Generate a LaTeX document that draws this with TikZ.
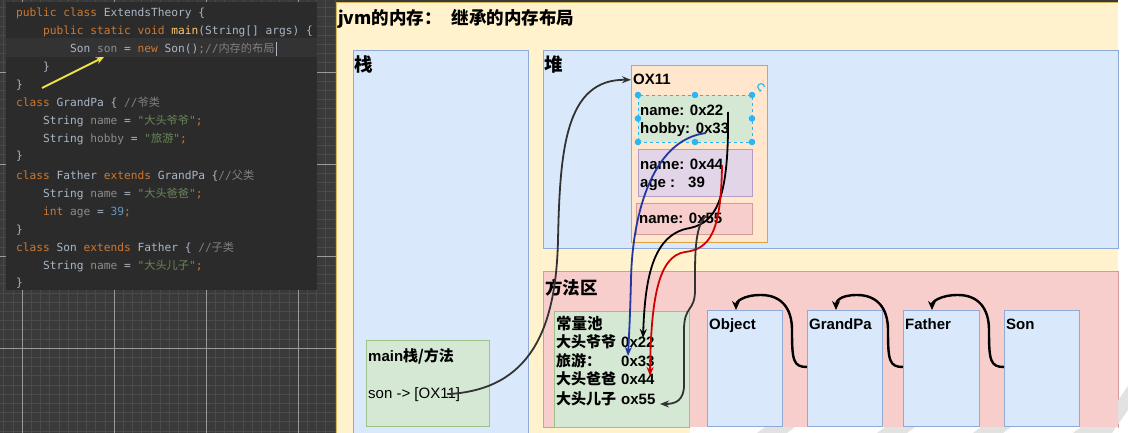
\documentclass[tikz,border=0pt]{standalone}
\usepackage{fontspec}
\setmainfont{Liberation Sans}
\newfontfamily\cjk{Noto Sans CJK SC}
\newfontfamily\codefont{DejaVu Sans Mono}
\usetikzlibrary{arrows.meta,calc}

% editor colours
\definecolor{gridbg}{HTML}{3A3A3A}
\definecolor{gridminor}{HTML}{4A4A4A}
\definecolor{gridmajor}{HTML}{9A9A9A}
\definecolor{codebg}{HTML}{2B2B2B}
\definecolor{curline}{HTML}{333333}
\definecolor{ckw}{HTML}{CC7832}
\definecolor{cid}{HTML}{A9B7C6}
\definecolor{cfd}{HTML}{8C8C8C}
\definecolor{cstr}{HTML}{6A8759}
\definecolor{cnum}{HTML}{6897BB}
\definecolor{ccm}{HTML}{808080}
\definecolor{cfn}{HTML}{FFC66D}
\definecolor{pointer}{HTML}{F0E442}
% diagram colours
\definecolor{beige}{HTML}{FFF2CC}
\definecolor{beigeD}{HTML}{D6B656}
\definecolor{blueF}{HTML}{DAE8FC}
\definecolor{blueD}{HTML}{8FAAD6}
\definecolor{pinkF}{HTML}{F8CECC}
\definecolor{pinkD}{HTML}{D19B98}
\definecolor{orangeF}{HTML}{FFE6CC}
\definecolor{orangeD}{HTML}{D9A441}
\definecolor{greenF}{HTML}{D5E8D4}
\definecolor{greenD}{HTML}{9CC28A}
\definecolor{purpleF}{HTML}{E1D5E7}
\definecolor{purpleD}{HTML}{B49CC4}
\definecolor{handlec}{HTML}{29B6F2}
\definecolor{linkc}{HTML}{333333}
\definecolor{bluearrow}{HTML}{2437A0}
\definecolor{redarrow}{HTML}{D40000}
\definecolor{wmgray}{HTML}{E2E2E2}

% syntax highlighting helpers
\newcommand\cKw[1]{\textcolor{ckw}{#1}}
\newcommand\cId[1]{\textcolor{cid}{#1}}
\newcommand\cFd[1]{\textcolor{cfd}{#1}}
\newcommand\cStr[1]{\textcolor{cstr}{#1}}
\newcommand\cNum[1]{\textcolor{cnum}{#1}}
\newcommand\cCm[1]{\textcolor{ccm}{#1}}
\newcommand\cFn[1]{\textcolor{cfn}{#1}}

\begin{document}
\begin{tikzpicture}[x=1pt,y=-1pt,
  box/.style={draw, line width=0.8pt, inner sep=0pt, anchor=north west},
  txt/.style={anchor=base west, inner sep=0pt, text=black, font=\bfseries\fontsize{15}{18}\selectfont},
  codeline/.style={anchor=base west, inner sep=0pt, text=cid, font=\codefont\fontsize{11.2}{13}\selectfont},
  link/.style={draw=linkc, line width=1.8pt, -{Stealth[length=9pt,width=7pt]}},
  inh/.style={draw=black, line width=2.4pt, -{Stealth[length=9pt,width=8pt]}},
]
\useasboundingbox (0,0) rectangle (1128,433);

% ---------- editor background with grid ----------
\fill[gridbg] (0,0) rectangle (1118,433);
\fill[white] (1118,0) rectangle (1128,433);
\begin{scope}
  \clip (0,0) rectangle (336,433);
  \foreach \i in {0,...,36} \draw[gridminor, line width=0.6pt] ({3.6+9.2*\i},0) -- ({3.6+9.2*\i},433);
  \foreach \j in {0,...,46} \draw[gridminor, line width=0.6pt] (0,{7.6+9.2*\j}) -- (336,{7.6+9.2*\j});
  \foreach \i in {22,114,206,298} \draw[gridmajor, line width=0.7pt] (\i,0) -- (\i,433);
  \foreach \j in {72,164,256,348} \draw[gridmajor, line width=0.7pt] (0,\j) -- (336,\j);
\end{scope}

% ---------- code panel ----------
\fill[codebg] (6,2) rectangle (317,290);
\fill[curline] (6,38.5) rectangle (317,57.5);

\node[codeline] (c1)  at (16,16.5)  {\cKw{public class} \cId{ExtendsTheory \{}};
\node[codeline] (c2)  at (43,34.6)  {\cKw{public static void} \cFn{main}\cId{(String[] args) \{}};
\node[codeline] (c3)  at (70,52.6)  {\cId{Son} \cFd{son} \cId{=} \cKw{new} \cId{Son()}\cKw{;}\cCm{//{\cjk 内存的布局}}};
\node[codeline] (c4)  at (43,70.7)  {\cId{\}}};
\node[codeline] (c5)  at (16,88.8)  {\cId{\}}};
\node[codeline] (c6)  at (16,106.9) {\cKw{class} \cId{GrandPa \{} \cCm{//{\cjk 爷类}}};
\node[codeline] (c7)  at (43,124.9) {\cId{String} \cFd{name} \cId{=} \cStr{"{\cjk 大头爷爷}"}\cKw{;}};
\node[codeline] (c8)  at (43,143.0) {\cId{String} \cFd{hobby} \cId{=} \cStr{"{\cjk 旅游}"}\cKw{;}};
\node[codeline] (c9)  at (16,160.0) {\cId{\}}};
\node[codeline] (c10) at (16,179.1) {\cKw{class} \cId{Father} \cKw{extends} \cId{GrandPa \{}\cCm{//{\cjk 父类}}};
\node[codeline] (c11) at (43,197.2) {\cId{String} \cFd{name} \cId{=} \cStr{"{\cjk 大头爸爸}"}\cKw{;}};
\node[codeline] (c12) at (43,215.3) {\cKw{int} \cFd{age} \cId{=} \cNum{39}\cKw{;}};
\node[codeline] (c13) at (16,233.3) {\cId{\}}};
\node[codeline] (c14) at (16,251.4) {\cKw{class} \cId{Son} \cKw{extends} \cId{Father \{} \cCm{//{\cjk 子类}}};
\node[codeline] (c15) at (43,269.5) {\cId{String} \cFd{name} \cId{=} \cStr{"{\cjk 大头儿子}"}\cKw{;}};
\node[codeline] (c16) at (16,286.5) {\cId{\}}};
% text caret
\draw[cid, line width=0.9pt] ([xshift=2pt,yshift=-3pt]c3.base east) -- ++(0,-14);
% yellow pointer
\coordinate (ya) at (42,88);
\coordinate (yb) at (104,57);
\draw[pointer, line width=2pt, -{Stealth[length=8pt,width=7pt]}] (ya) -- (yb);

% ---------- memory diagram ----------
\fill[beige] (336,3) rectangle (1118,433);
\draw[beigeD, line width=1pt] (336,433) -- (336,3) -- (1118,3);
\node[anchor=base west, inner sep=0pt, font=\cjk\bfseries\fontsize{17.5}{20}\selectfont] (title) at (338,25) {jvm的内存：\hspace{10pt}继承的内存布局};

% regions
\node[box, fill=blueF, draw=blueD, minimum width=175, minimum height=400] (stack) at (353,50) {};
\node[box, fill=blueF, draw=blueD, minimum width=575, minimum height=198] (heap) at (543,50) {};
\node[box, fill=pinkF, draw=pinkD, minimum width=575, minimum height=156] (method) at (543,271) {};
\node[txt, font=\cjk\bfseries\fontsize{18.5}{20}\selectfont] (stackl) at (354,72) {栈};
\node[txt, font=\cjk\bfseries\fontsize{18.5}{20}\selectfont] (heapl) at (544,72) {堆};
\node[txt, font=\cjk\bfseries\fontsize{17.5}{20}\selectfont] (methodl) at (545,294) {方法区};

% object in the heap
\node[box, fill=orangeF, draw=orangeD, minimum width=136, minimum height=177] (obj) at (631,65) {};
\node[txt, inner xsep=2pt] (ox) at (631,85) {OX11};
\node[box, fill=greenF, draw=handlec, dashed, line width=0.6pt, minimum width=114, minimum height=47] (gpart) at (638,95) {};
\node[box, fill=purpleF, draw=purpleD, minimum width=114, minimum height=47] (fpart) at (638,149) {};
\node[box, fill=pinkF, draw=pinkD, minimum width=116, minimum height=31] (spart) at (636,203) {};
\node[txt] (f22) at (640,116) {name: 0x22};
\node[txt] (f33) at (640,134) {hobby: 0x33};
\node[txt] (f44) at (640,170) {name: 0x44};
\node[txt] (fage) at (640,188) {\makebox[48pt][l]{age :}39};
\node[txt] (f55) at (639,223) {name: 0x55};
% selection handles
\foreach \p in {(638,95),(695,95),(752,95),(638,118.5),(752,118.5),(638,142),(695,142),(752,142)}
  \fill[handlec] \p circle[radius=3.3pt];
\draw[handlec, line width=1.1pt, -{Stealth[length=2.6pt,width=3pt]}] (764.5,87) arc[start angle=0, end angle=280, radius=3.4pt];

% stack frame
\node[box, fill=greenF, draw=greenD, minimum width=123, minimum height=86] (mainf) at (366,340) {};
\node[txt] (mainl) at (368,361) {main{\cjk 栈/方法}};
\node[txt, font=\fontsize{15}{18}\selectfont] (sonref) at (368,398) {son -> [OX11]};

% constant pool
\node[box, fill=greenF, draw=greenD, minimum width=135, minimum height=116] (pool) at (554,311) {};
\node[txt, font=\cjk\bfseries\fontsize{15.5}{18}\selectfont] (poolt) at (556,329.5) {常量池};
\node[txt] (r22) at (556,347) {\makebox[65pt][l]{\cjk 大头爷爷}0x22};
\node[txt] (r33) at (556,366) {\makebox[65pt][l]{\cjk 旅游：}0x33};
\node[txt] (r44) at (556,384) {\makebox[65pt][l]{\cjk 大头爸爸}0x44};
\node[txt] (r55) at (556,404) {\makebox[65pt][l]{\cjk 大头儿子}ox55};

% classes
\node[box, fill=blueF, draw=blueD, minimum width=75, minimum height=116] (cobj) at (707,310) {};
\node[box, fill=blueF, draw=blueD, minimum width=75, minimum height=116] (cgp) at (807,310) {};
\node[box, fill=blueF, draw=blueD, minimum width=76, minimum height=116] (cfa) at (903,310) {};
\node[box, fill=blueF, draw=blueD, minimum width=75, minimum height=116] (cson) at (1004,310) {};
\node[txt] at (709,329) {Object};
\node[txt] at (809,329) {GrandPa};
\node[txt] at (905,329) {Father};
\node[txt] at (1006,329) {Son};

% inheritance arrows
\foreach \a/\b in {cgp/cobj,cfa/cgp,cson/cfa}
  \draw[inh] ($(\a.north west)+(0,57)$) .. controls +(-14,0) and +(0,30) .. ($(\a.north west)+(-15,20)$)
    .. controls +(0,-22) and +(20,0) .. ($(\a.north west)+(-46,-15)$)
    .. controls +(-18,0) and +(0,-8) .. ($(\b.north west)+(29,0)$);

% reference from the stack to the object
\coordinate (sonptr) at ([xshift=-13pt]sonref.east);
\draw[link] (sonptr) .. controls (530,390) and (556,330) .. (558,240)
  .. controls (560,150) and (565,79) .. (ox.west);

% field references into the constant pool
\coordinate (b0) at (706,133);
\coordinate (b1) at (628,356);
\draw[link, draw=bluearrow] (b0) .. controls (650,140) and (632,220) .. (631,280)
  .. controls (630,320) and (629,335) .. (b1);
\coordinate (k0) at (728,112);
\coordinate (k1) at (643,338);
\draw[link, draw=black] (k0) .. controls (729,195) and (718,222) .. (690,228)
  .. controls (652,234) and (645,280) .. (k1);
\coordinate (q0) at (722,166);
\coordinate (q1) at (650,376);
\draw[link, draw=redarrow] (q0) .. controls (721,232) and (710,249) .. (685,252)
  .. controls (658,256) and (651,300) .. (q1);
\coordinate (g0) at (706,216);
\coordinate (g1) at (660,404);
\draw[link] (g0) .. controls (694,226) and (695,260) .. (695,290)
  .. controls (695,312) and (684,305) .. (684,330) -- (684,385)
  .. controls (684,400) and (676,404) .. (g1);

% white margin band with faint marks
\fill[white] (690,427) rectangle (1118,433);
\begin{scope}
  \clip (690,427) rectangle (1128,433) (1118,0) rectangle (1128,433);
  \foreach \x in {757,877,973,1073}
    \fill[wmgray] (\x,433) -- (\x+8,427) -- (\x+38,427) -- (\x+30,433) -- cycle;
  \fill[wmgray] (1096,433) -- (1128,386) -- (1128,410) -- (1112,433) -- cycle;
\end{scope}
\end{tikzpicture}
\end{document}
